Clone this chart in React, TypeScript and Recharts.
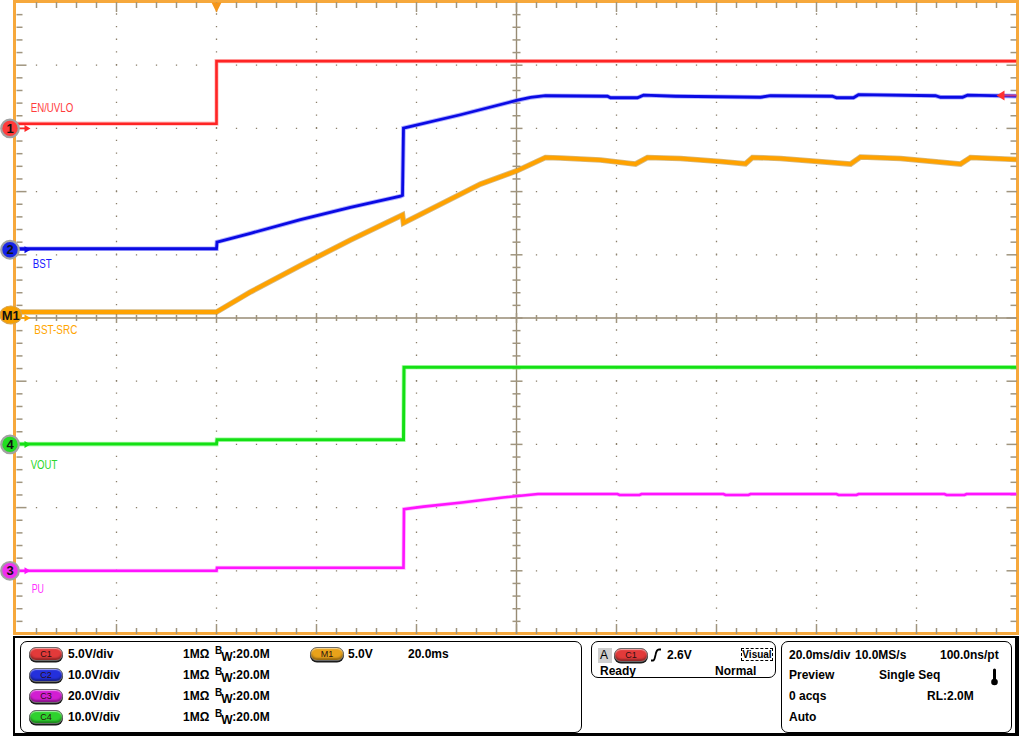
import React from "react";
import { LineChart, Line, XAxis, YAxis, ReferenceLine, ReferenceDot } from "recharts";

const FONT = '"Liberation Sans", Arial, Helvetica, sans-serif';

// horizontal: 20 ms/div, 10 div; trigger at 40 ms on C1 rising 2.6 V
const timeDomain = [0, 200];
const triggerTime = 40;
const triggerLevel = 2.6;

// C1 EN/UVLO (V)
const enTime = [0, 40, 40, 200];
const enVolts = [0.37, 0.37, 5.32, 5.32];

// C2 BST (V)
const bstTime = [
  0, 40, 40.1, 46.8, 56.8, 66.8, 76.8, 77.2, 77.4, 88.8, 100, 102.8, 105.8, 118.2, 118.8, 124.2, 125.4,
  131.8, 148.8, 150.8, 163.2, 164, 167.4, 168.4, 183.8, 184.8, 189.2, 190.2, 200,
];
const bstVolts = [
  0.16, 0.16, 1.22, 2.6, 4.75, 6.72, 8.47, 8.62, 19.26, 21.36, 23.62, 24.1, 24.37, 24.29, 24.05, 24.05,
  24.45, 24.29, 24.13, 24.37, 24.29, 24.05, 24.05, 24.53, 24.37, 24.13, 24.13, 24.45, 24.3,
];

// M1 BST-SRC (V)
const srcTime = [
  0, 40, 46.8, 56.8, 66.8, 77.2, 77.4, 92.8, 100, 105.8, 108.8, 116.8, 122.8, 123.8, 126.2, 132.8,
  140.8, 145.8, 147.2, 152.8, 166.8, 168.8, 176.8, 188.8, 190.8, 200,
];
const srcVolts = [
  0.47, 0.47, 2.06, 4.15, 6.17, 8.15, 7.52, 10.6, 11.63, 12.7, 12.66, 12.5, 12.22, 12.18, 12.7, 12.62,
  12.38, 12.2, 12.7, 12.62, 12.18, 12.74, 12.62, 12.18, 12.7, 12.54,
];

// C4 VOUT (V)
const voutTime = [0, 40, 40.1, 77.4, 77.5, 200];
const voutVolts = [0.05, 0.05, 0.75, 0.75, 12.2, 12.2];

// C3 PU (V)
const puTime = [
  0, 40, 40.1, 77.4, 77.5, 81.4, 89.1, 97.3, 104.3, 120.2, 120.6, 124.6, 125, 141.4, 141.8, 146.4, 146.8,
  164, 164.4, 168, 168.4, 185.6, 186, 189.6, 190, 200,
];
const puVolts = [
  0, 0, 0.95, 0.95, 19.5, 20.3, 21.6, 23.2, 24.3, 24.3, 24.0, 24.0, 24.3, 24.3, 24.0, 24.0, 24.3,
  24.3, 24.0, 24.0, 24.3, 24.3, 24.0, 24.0, 24.3, 24.3,
];

// channel settings: V/div and ground position (div from bottom)
const chNames = ["EN/UVLO", "BST", "BST-SRC", "VOUT", "PU"];
const chBadges = ["1", "2", "M1", "4", "3"];
const chScales = [5, 10, 5, 10, 20];
const chGrounds = [8, 6.08, 5, 3, 1];
const chTimes = [enTime, bstTime, srcTime, voutTime, puTime];
const chVolts = [enVolts, bstVolts, srcVolts, voutVolts, puVolts];

// styles per channel (same order)
const chStyle = [
  { core: "#ff2424", halo: "#ff9a9a", w: 2.6, hw: 4.2, label: "#ff3c3c", badge: "#ff3a3a", ldx: 14.2, ldy: -16.7, lw: 42.6 },
  { core: "#0a0ae4", halo: "#7c7cff", w: 2.8, hw: 4.6, label: "#1a1aff", badge: "#1624e8", ldx: 16.2, ldy: 18.6, lw: 19 },
  { core: "#ffa200", halo: "#b88a30", w: 4, hw: 5.6, label: "#ffa500", badge: "#f7a000", ldx: 17.8, ldy: 16, lw: 43 },
  { core: "#14e014", halo: "#8cff8c", w: 3, hw: 4.6, label: "#2ad82a", badge: "#22dd22", ldx: 14.2, ldy: 24.9, lw: 26.6 },
  { core: "#ff14ff", halo: "#ff9cff", w: 2.6, hw: 4.2, label: "#ff30ff", badge: "#f030f0", ldx: 15.2, ldy: 21.9, lw: 12.3 },
];
const drawOrder = [2, 0, 1, 3, 4];

const PX_X = 5; // px per ms
const PX_Y = 63.2; // px per div
const GRID = "#8a7f6a";
const TICK = "#a0957f";

const series = chTimes.map((times, c) =>
  times.map((t, i) => ({ t, y: chGrounds[c] + chVolts[c][i] / chScales[c] }))
);

type Seg = [{ x: number; y: number }, { x: number; y: number }];
const ticks: Seg[] = [];
for (let i = 1; i < 50; i++) {
  const t = i * 4;
  const major = i % 5 === 0;
  const l = (major ? 10 : 6) / PX_Y;
  const c = (major ? 5 : 3) / PX_Y;
  ticks.push([{ x: t, y: 10 }, { x: t, y: 10 - l }]);
  ticks.push([{ x: t, y: 0 }, { x: t, y: l }]);
  ticks.push([{ x: t, y: 5 - c }, { x: t, y: 5 + c }]);
}
for (let j = 1; j < 50; j++) {
  const d = j / 5;
  const major = j % 5 === 0;
  const l = (major ? 10 : 6) / PX_X;
  const c = (major ? 6 : 4) / PX_X;
  ticks.push([{ x: 0, y: d }, { x: l, y: d }]);
  ticks.push([{ x: 200, y: d }, { x: 200 - l, y: d }]);
  ticks.push([{ x: 100 - c, y: d }, { x: 100 + c, y: d }]);
}
const gridX = [20, 40, 60, 80, 120, 140, 160, 180];
const gridY = [1, 2, 3, 4, 6, 7, 8, 9];

function ChannelMarker({ cx, cy, c }: { cx: number; cy: number; c: number }) {
  const s = chStyle[c];
  const badge = chBadges[c];
  const bx = cx - 6.5;
  const isMath = badge === "M1";
  const by = isMath ? cy - 3 : cy;
  return (
    <g>
      <line x1={cx - 2} y1={cy} x2={cx + 9} y2={cy} stroke={s.core} strokeWidth={1.6} />
      <polygon points={`${cx + 8},${cy - 3.5} ${cx + 14},${cy} ${cx + 8},${cy + 3.5}`} fill={s.core} />
      {isMath ? (
        <ellipse cx={bx + 0.8} cy={by} rx={10.8} ry={9} fill={s.badge} stroke="#d8a24a" strokeWidth={1.2} />
      ) : (
        <circle cx={bx} cy={by} r={8.8} fill={s.badge} stroke="#a2a2a2" strokeWidth={2.2} />
      )}
      <text x={isMath ? bx + 0.8 : bx} y={by + 4.5} textAnchor="middle" fontSize={13} fontWeight="bold" fill="#111" fontFamily={FONT}>
        {badge}
      </text>
      <text
        x={cx + s.ldx}
        y={cy + s.ldy}
        fontSize={12}
        fill={s.label}
        textLength={s.lw}
        lengthAdjust="spacingAndGlyphs"
        fontFamily={FONT}
      >
        {chNames[c]}
      </text>
    </g>
  );
}

function Scope() {
  return (
    <LineChart width={1024} height={636} margin={{ top: 2, right: 7.5, bottom: 2, left: 16.5 }}>
      <XAxis type="number" dataKey="t" domain={timeDomain} hide allowDataOverflow />
      <YAxis type="number" domain={[0, 10]} hide allowDataOverflow />
      {gridX.map((x) => (
        <ReferenceLine key={`gx${x}`} x={x} stroke={GRID} strokeWidth={1.3} strokeDasharray="1.3 11.34" ifOverflow="visible" />
      ))}
      {gridY.map((y) => (
        <ReferenceLine key={`gy${y}`} y={y} stroke={GRID} strokeWidth={1.3} strokeDasharray="1.3 18.7" strokeDashoffset={0.65} ifOverflow="visible" />
      ))}
      <ReferenceLine x={100} stroke="#978b74" strokeWidth={1.4} ifOverflow="visible" />
      <ReferenceLine y={5} stroke="#978b74" strokeWidth={1.4} ifOverflow="visible" />
      {ticks.map((seg, k) => (
        <ReferenceLine key={`tk${k}`} segment={seg} stroke={TICK} strokeWidth={1.5} ifOverflow="visible" />
      ))}
      {drawOrder.map((c) => (
        <Line
          key={`h${c}`}
          data={series[c]}
          dataKey="y"
          type="linear"
          dot={false}
          stroke={chStyle[c].halo}
          strokeOpacity={0.6}
          strokeWidth={chStyle[c].hw}
          isAnimationActive={false}
        />
      ))}
      {drawOrder.map((c) => (
        <Line
          key={`l${c}`}
          data={series[c]}
          dataKey="y"
          type="linear"
          dot={false}
          stroke={chStyle[c].core}
          strokeWidth={chStyle[c].w}
          isAnimationActive={false}
        />
      ))}
      {chNames.map((_, c) => (
        <ReferenceDot
          key={`m${c}`}
          x={0}
          y={chGrounds[c]}
          r={0}
          ifOverflow="visible"
          shape={(p: any) => <ChannelMarker cx={p.cx} cy={p.cy} c={c} />}
        />
      ))}
      <ReferenceDot
        x={triggerTime}
        y={10}
        r={0}
        ifOverflow="visible"
        shape={(p: any) => (
          <polygon points={`${p.cx - 5},${p.cy + 0.5} ${p.cx + 5},${p.cy + 0.5} ${p.cx},${p.cy + 10.5}`} fill="#f5961a" />
        )}
      />
      <ReferenceDot
        x={200}
        y={chGrounds[0] + triggerLevel / chScales[0]}
        r={0}
        ifOverflow="visible"
        shape={(p: any) => (
          <g>
            <line x1={p.cx - 14} y1={p.cy} x2={p.cx} y2={p.cy} stroke="#c03a8a" strokeWidth={2} />
            <polygon points={`${p.cx - 20},${p.cy} ${p.cx - 12},${p.cy - 5} ${p.cx - 12},${p.cy + 5}`} fill="#ff3030" />
          </g>
        )}
      />
    </LineChart>
  );
}

const pillFill: Record<string, string> = {
  C1: "#e23a3a",
  C2: "#2430dc",
  C3: "#d21ed2",
  C4: "#2ed22e",
  M1: "#e8a21a",
};

function Pill({ x, y, id }: { x: number; y: number; id: string }) {
  return (
    <div
      style={{
        position: "absolute",
        left: x,
        top: y - 7,
        width: 34,
        height: 14,
        boxSizing: "border-box",
        borderRadius: 7,
        border: "1px solid #6a6a6a",
        background: pillFill[id],
        boxShadow: "inset 0 1px 1px rgba(255,255,255,0.55), inset 0 -2px 2px rgba(0,0,0,0.35), 0 1.5px 0 #1a1a1a",
        fontFamily: FONT,
        fontSize: 9,
        lineHeight: "12px",
        textAlign: "center",
        color: "#2a1010",
      }}
    >
      {id}
    </div>
  );
}

function T({ x, y, children, size = 12 }: { x: number; y: number; children: React.ReactNode; size?: number }) {
  return (
    <div
      style={{
        position: "absolute",
        left: x,
        top: y - 7,
        lineHeight: "14px",
        fontSize: size,
        fontWeight: "bold",
        fontFamily: FONT,
        whiteSpace: "nowrap",
        color: "#000",
      }}
    >
      {children}
    </div>
  );
}

const box = (left: number, top: number, width: number, height: number): React.CSSProperties => ({
  position: "absolute",
  left,
  top,
  width,
  height,
  boxSizing: "border-box",
  border: "1px solid #000",
  borderRadius: 7,
});

const rowY = [654, 675, 696, 717];
const panelIds = ["C1", "C2", "C3", "C4"];
const panelScale = [chScales[0], chScales[1], chScales[4], chScales[3]];

function InfoPanel() {
  return (
    <>
      <div
        style={{
          position: "absolute",
          left: 13,
          top: 636,
          width: 1006,
          height: 100,
          boxSizing: "border-box",
          borderTop: "2px solid #000",
          borderLeft: "2px solid #000",
          borderRight: "4px solid #000",
          borderBottom: "3px solid #000",
          background: "#fff",
        }}
      />
      <div style={box(20, 641, 562, 92)} />
      <div style={box(591, 641, 185, 37)} />
      <div style={box(781, 641, 231, 92)} />
      {panelIds.map((id, r) => (
        <React.Fragment key={id}>
          <Pill x={29} y={rowY[r]} id={id} />
          <T x={68} y={rowY[r]}>{`${panelScale[r].toFixed(1)}V/div`}</T>
          <T x={183} y={rowY[r]}>1MΩ</T>
          <T x={215} y={rowY[r]}>
            <span style={{ position: "relative", top: -4, fontSize: 10 }}>B</span>
            <span style={{ position: "relative", top: 3, marginLeft: -1 }}>W</span>
            :20.0M
          </T>
        </React.Fragment>
      ))}
      <Pill x={310} y={rowY[0]} id="M1" />
      <T x={348} y={rowY[0]}>{`${chScales[2].toFixed(1)}V`}</T>
      <T x={408} y={rowY[0]}>20.0ms</T>

      <div style={{ position: "absolute", left: 598, top: 648, width: 14, height: 15, background: "#cfcfcf" }} />
      <T x={600} y={655}>
        <span style={{ fontWeight: "normal" }}>A</span>
      </T>
      <Pill x={614} y={655} id="C1" />
      <svg style={{ position: "absolute", left: 650, top: 648 }} width={12} height={14}>
        <path d="M1 12.5 L3 12.5 C4.5 12.5 4.8 10 5.5 7 C6.2 3 7 1.5 9 1.5 L11 1.5" stroke="#000" strokeWidth={1.8} fill="none" />
      </svg>
      <T x={667} y={655}>{`${triggerLevel}V`}</T>
      <div
        style={{
          position: "absolute",
          left: 741,
          top: 648,
          width: 32,
          height: 13,
          boxSizing: "border-box",
          border: "1px dashed #000",
          fontFamily: FONT,
          fontSize: 10,
          fontWeight: "bold",
          lineHeight: "11px",
          textAlign: "center",
        }}
      >
        Visual
      </div>
      <T x={600} y={671}>Ready</T>
      <T x={715} y={671}>Normal</T>

      <T x={789} y={655}>20.0ms/div</T>
      <T x={855} y={655}>10.0MS/s</T>
      <T x={940} y={655}>100.0ns/pt</T>
      <T x={789} y={675}>Preview</T>
      <T x={879} y={675}>Single Seq</T>
      <svg style={{ position: "absolute", left: 990, top: 668 }} width={9} height={18}>
        <line x1={4.5} y1={2} x2={4.5} y2={12} stroke="#000" strokeWidth={3} strokeLinecap="round" />
        <circle cx={4.5} cy={14} r={3.3} fill="#000" />
      </svg>
      <T x={789} y={696}>0 acqs</T>
      <T x={927} y={696}>RL:2.0M</T>
      <T x={789} y={717}>Auto</T>
    </>
  );
}

export default function App() {
  return (
    <div style={{ position: "fixed", left: 0, top: 0, width: 1024, height: 736, background: "#fff", overflow: "hidden" }}>
      <div
        style={{
          position: "absolute",
          left: 13,
          top: 0,
          width: 1005.5,
          height: 635,
          boxSizing: "border-box",
          border: "3px solid #f6a83c",
        }}
      />
      <div style={{ position: "absolute", left: 0, top: 0 }}>
        <Scope />
      </div>
      <InfoPanel />
    </div>
  );
}
